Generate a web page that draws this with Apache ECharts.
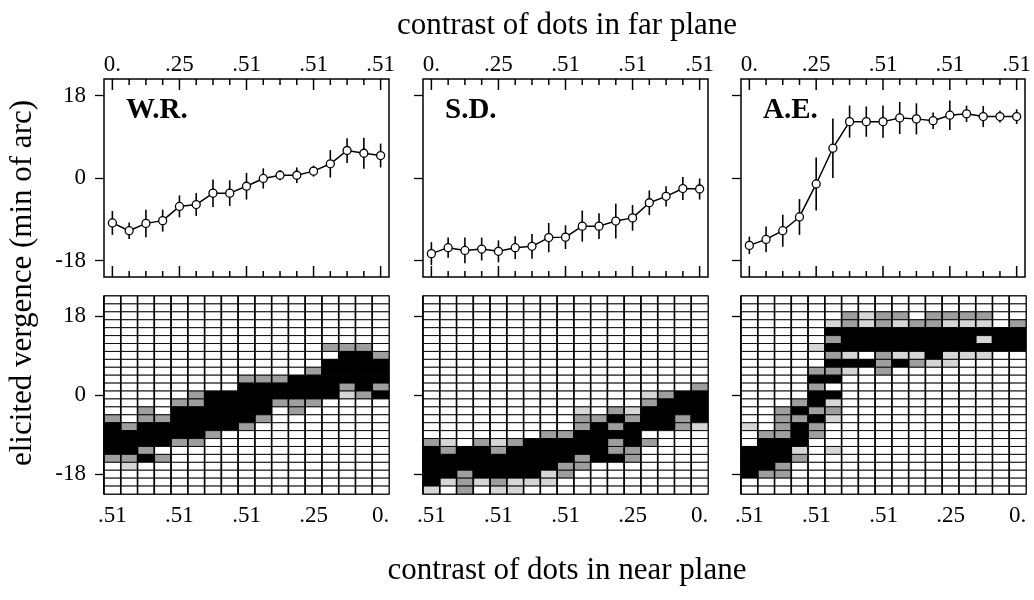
<!DOCTYPE html>
<html>
<head>
<meta charset="utf-8">
<script src="https://cdn.jsdelivr.net/npm/echarts@6/dist/echarts.min.js"></script>
<style>
  html, body { margin: 0; padding: 0; background: #fff; }
  #chart { width: 1034px; height: 600px; }
</style>
</head>
<body>
<div id="chart"></div>
<script>
// ---- data -------------------------------------------------------------
const observers = ['W.R.', 'S.D.', 'A.E.'];
const steps = ['1','2','3','4','5','6','7','8','9','10','11','12','13','14','15','16','17'];
const farTickLabels  = ['0.', '', '', '', '.25', '', '', '', '.51', '', '', '', '.51', '', '', '', '.51'];
const nearTickLabels = ['.51', '', '', '', '.51', '', '', '', '.51', '', '', '', '.25', '', '', '', '0.'];
const vergenceTicks = [-18, 0, 18];

// mean elicited vergence (min of arc) and its spread, per contrast step
const meanWR = [-9.8, -11.5, -9.9, -9.3, -6.2, -5.8, -3.3, -3.3, -1.8, -0.1, 0.6, 0.6, 1.5, 3.1, 6.0, 5.4, 4.9];
const sdWR   = [2.6, 1.8, 3.0, 2.4, 2.4, 2.5, 3.0, 2.8, 2.9, 2.2, 1.1, 1.7, 1.2, 3.0, 2.7, 3.4, 2.6];
const meanSD = [-16.5, -15.2, -15.8, -15.5, -16.0, -15.2, -14.9, -13.0, -12.9, -10.5, -10.5, -9.4, -8.7, -5.4, -4.0, -2.3, -2.4];
const sdSD   = [2.5, 2.2, 2.8, 2.5, 2.4, 2.5, 2.7, 3.2, 2.6, 3.4, 2.8, 3.8, 2.8, 2.7, 2.2, 2.5, 2.3];
const meanAE = [-14.7, -13.4, -11.5, -8.5, -1.3, 6.5, 12.3, 12.3, 12.3, 13.1, 12.9, 12.5, 13.7, 14.0, 13.4, 13.4, 13.4];
const sdAE   = [1.9, 2.8, 3.5, 3.9, 5.8, 6.5, 3.5, 3.3, 3.5, 3.5, 3.4, 1.8, 3.2, 1.8, 2.3, 1.3, 1.6];

// vergence bins of the response histograms (bin centres, top to bottom)
const binCentres = [21.6, 19.8, 18.0, 16.2, 14.4, 12.6, 10.8, 9.0, 7.2, 5.4, 3.6, 1.8, 0,
                    -1.8, -3.6, -5.4, -7.2, -9.0, -10.8, -12.6, -14.4, -16.2, -18.0, -19.8, -21.6];
const binWidth = 1.8;

// response frequency per bin and contrast step:
// '.' none, ':' rare, '+' occasional, '#' frequent
const histWR = [
  '.................',
  '.................',
  '.................',
  '.................',
  '.................',
  '.................',
  '.............+++.',
  '..............##+',
  '.............####',
  '............+####',
  '........+++######',
  '........######+#+',
  '.....+########:+#',
  '....++####+++....',
  '..+.######.+.....',
  '+.++#####+.......',
  '#+######+........',
  '######+..........',
  '####++...........',
  '##+..............',
  '++#+.............',
  '.:...............',
  '.................',
  '.................',
  '.................'
];
const histSD = [
  '.................',
  '.................',
  '.................',
  '.................',
  '.................',
  '.................',
  '.................',
  '.................',
  '.................',
  '.................',
  '.................',
  '................+',
  '.............:+##',
  '.............+###',
  '.........:.+:####',
  '.........++#+##+#',
  '.........+#+###+:',
  '.......++####....',
  '+:.+:+#####+#+...',
  '#+##+######++....',
  '#########+##+....',
  '########++.......',
  '##+####:+........',
  '#:+:+:::.........',
  ':.+.::...........'
];
const histAE = [
  '.................',
  '.................',
  '......+:++.++++..',
  '.....:+:+:++:::.+',
  '.....############',
  '.....+########:##',
  '....:############',
  '.....+:.+::#:::..',
  '.....###+#+::....',
  '....++:.+........',
  '....##...........',
  '....+............',
  '....##...........',
  '...+#:...........',
  '..+#++...........',
  '..++#:...........',
  ':.+#+............',
  '.++#+............',
  '.###.............',
  '###:.:...........',
  '###+.............',
  '##+..............',
  '#++..............',
  '.................',
  '.................'
];

// ---- styling ------------------------------------------------------------
const serif = 'Liberation Serif';
const shades = ['#ffffff', '#d6d6d6', '#9e9e9e', '#000000'];
const shadeLevel = { '.': 0, ':': 1, '+': 2, '#': 3 };
const panelLeft = [104, 423, 741];
const panelWidth = 285;
const panelHeight = 198;
const meanTop = 79;
const histTop = 296;
const meanExtent = 21.6;   // vertical range of the upper panels (+/-)
const histExtent = 22.5;   // vertical range of the histogram panels (+/-)

const means = [meanWR, meanSD, meanAE];
const spreads = [sdWR, sdSD, sdAE];
const hists = [histWR, histSD, histAE];

const grids = [], xAxes = [], yAxes = [], series = [], graphics = [];
const spreadSeriesIndex = [];

function catAxis(gridIndex, position, extra) {
  const ax = Object.assign({
    type: 'category', gridIndex: gridIndex, position: position, data: steps,
    boundaryGap: true,
    axisLine: { show: false, onZero: false },
    axisTick: { show: false },
    axisLabel: { show: false },
    splitLine: { show: false }
  }, extra);
  xAxes.push(ax);
  return xAxes.length - 1;
}
function vergenceAxis(gridIndex, extent, withLabels) {
  yAxes.push({
    type: 'value', gridIndex: gridIndex, min: -extent, max: extent,
    axisLine: { show: false, onZero: false },
    splitLine: { show: false },
    axisTick: { show: true, inside: false, length: 9, customValues: vergenceTicks,
                lineStyle: { color: '#000', width: 1.3 } },
    axisLabel: { show: withLabels, customValues: vergenceTicks, margin: 18,
                 fontFamily: serif, fontSize: 23, color: '#000' }
  });
  return yAxes.length - 1;
}

// spread bar for one contrast step
function spreadItem(params, api) {
  const k = api.value(0), m = api.value(1), s = api.value(2);
  const lo = api.coord([k, m - s]);
  const hi = api.coord([k, m + s]);
  return { type: 'line', shape: { x1: lo[0], y1: lo[1], x2: hi[0], y2: hi[1] },
           style: { stroke: '#000', lineWidth: 1.6 } };
}

// one histogram cell, with a heavier rule on its left edge
function cellItem(params, api) {
  const c = api.coord([api.value(0), api.value(1)]);
  const s = api.size([1, binWidth]);
  const x0 = c[0] - s[0] / 2, y0 = c[1] - s[1] / 2;
  return { type: 'group', children: [
    { type: 'rect', shape: { x: x0, y: y0, width: s[0], height: s[1] },
      style: { fill: shades[api.value(2)], stroke: '#000', lineWidth: 0.9 } },
    { type: 'line', shape: { x1: x0, y1: y0, x2: x0, y2: y0 + s[1] },
      style: { stroke: '#000', lineWidth: 1.6 } }
  ] };
}

observers.forEach(function (name, i) {
  // --- upper panel: mean vergence with spread ---
  const gTop = grids.length;
  grids.push({ left: panelLeft[i], top: meanTop, width: panelWidth, height: panelHeight,
               show: true, borderColor: '#000', borderWidth: 1.5, backgroundColor: '#fff' });
  const xTop = catAxis(gTop, 'top', {
    axisLabel: { show: true, interval: 0, margin: 3, fontFamily: serif, fontSize: 23, color: '#000',
                 formatter: function (v, idx) { return farTickLabels[idx]; } }
  });
  const yTop = vergenceAxis(gTop, meanExtent, i === 0);

  spreadSeriesIndex.push(series.length);
  series.push({
    type: 'custom', xAxisIndex: xTop, yAxisIndex: yTop, z: 3,
    data: means[i].map(function (m, k) { return [k, m, spreads[i][k]]; }),
    encode: { x: 0, y: 1 },
    renderItem: spreadItem
  });
  series.push({
    type: 'line', xAxisIndex: xTop, yAxisIndex: yTop, z: 4,
    data: means[i],
    symbol: 'circle', symbolSize: 8,
    itemStyle: { color: '#fff', borderColor: '#000', borderWidth: 1.3 },
    lineStyle: { color: '#000', width: 1.5 },
    emphasis: { disabled: true },
    animation: false
  });

  graphics.push({
    type: 'text', left: panelLeft[i] + 22, top: 96, z: 10,
    style: { text: name, font: 'bold 29px "' + serif + '"', fill: '#000' }
  });

  // --- lower panel: response histogram per contrast step ---
  const gHist = grids.length;
  grids.push({ left: panelLeft[i], top: histTop, width: panelWidth, height: panelHeight,
               show: true, borderColor: '#000', borderWidth: 1.5, backgroundColor: '#fff' });
  const xHist = catAxis(gHist, 'bottom', {
    axisLabel: { show: true, interval: 0, margin: 10, fontFamily: serif, fontSize: 23, color: '#000',
                 formatter: function (v, idx) { return nearTickLabels[idx]; } }
  });
  const yHist = vergenceAxis(gHist, histExtent, i === 0);

  const cells = [];
  hists[i].forEach(function (row, r) {
    for (let k = 0; k < row.length; k++) {
      cells.push([k, binCentres[r], shadeLevel[row[k]]]);
    }
  });
  series.push({
    type: 'custom', xAxisIndex: xHist, yAxisIndex: yHist, z: 2,
    data: cells,
    encode: { x: 0, y: 1 },
    renderItem: cellItem
  });
});

// axis titles
const titleFont = '31px "' + serif + '"';
graphics.push({
  type: 'text', x: 567, y: 26, z: 10,
  style: { text: 'contrast of dots in far plane', font: titleFont, fill: '#000',
           textAlign: 'center', textVerticalAlign: 'middle' }
});
graphics.push({
  type: 'text', x: 567, y: 571, z: 10,
  style: { text: 'contrast of dots in near plane', font: titleFont, fill: '#000',
           textAlign: 'center', textVerticalAlign: 'middle' }
});
graphics.push({
  type: 'text', x: 23, y: 283, rotation: Math.PI / 2, z: 10,
  style: { text: 'elicited vergence (min of arc)', font: titleFont, fill: '#000',
           textAlign: 'center', textVerticalAlign: 'middle' }
});

const chart = echarts.init(document.getElementById('chart'), null, { renderer: 'canvas' });
chart.setOption({
  backgroundColor: '#fff',
  animation: false,
  grid: grids,
  xAxis: xAxes,
  yAxis: yAxes,
  series: series
});

// inward ticks on the top and bottom edges of the upper panels, placed through
// each panel's own scales; longer where the step carries a label
spreadSeriesIndex.forEach(function (sIdx) {
  steps.forEach(function (s, k) {
    const top = chart.convertToPixel({ seriesIndex: sIdx }, [k, meanExtent]);
    const bottom = chart.convertToPixel({ seriesIndex: sIdx }, [k, -meanExtent]);
    const len = farTickLabels[k] ? 11 : 6;
    graphics.push({
      type: 'line', z: 9, silent: true,
      shape: { x1: top[0], y1: top[1], x2: top[0], y2: top[1] + len },
      style: { stroke: '#000', lineWidth: 1.5 }
    });
    graphics.push({
      type: 'line', z: 9, silent: true,
      shape: { x1: bottom[0], y1: bottom[1], x2: bottom[0], y2: bottom[1] - len },
      style: { stroke: '#000', lineWidth: 1.5 }
    });
  });
});

chart.setOption({ graphic: graphics });
</script>
</body>
</html>
